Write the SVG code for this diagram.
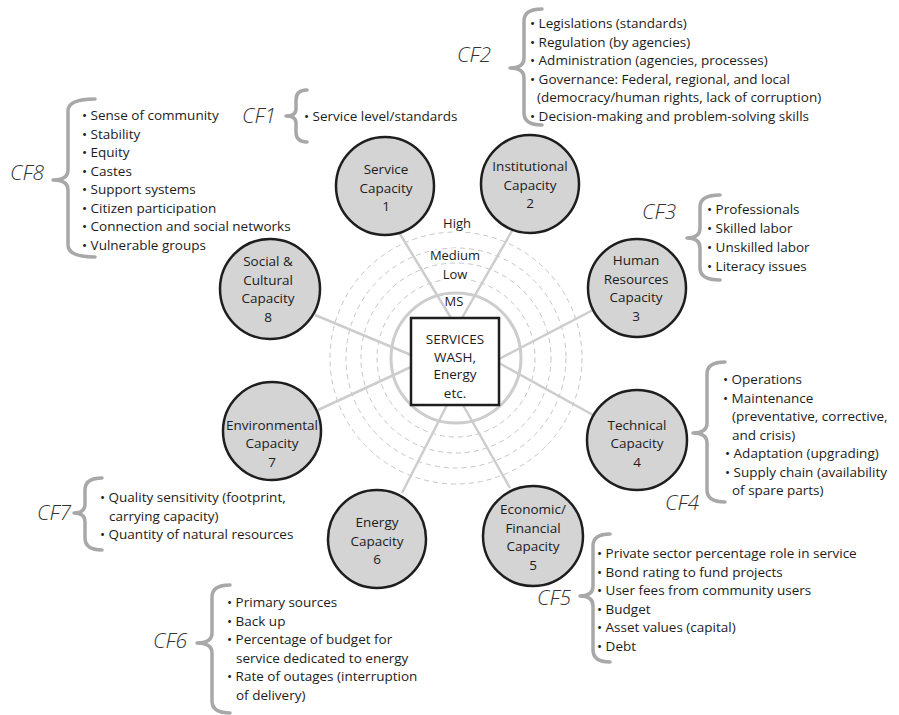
<svg xmlns="http://www.w3.org/2000/svg" width="899" height="715" viewBox="0 0 899 715">
  <style>
    .t{font-family:"Open Sans","Noto Sans","DejaVu Sans",sans-serif;font-size:13.5px;fill:#1c1c1c}
    .c{text-anchor:middle}
    .cf{font-family:"Open Sans","Noto Sans","DejaVu Sans",sans-serif;font-size:21px;font-style:italic;font-weight:300;fill:#333}
    .node{fill:#d4d4d4;stroke:#1e1e1e;stroke-width:2.5}
    .link{stroke:#cdcdcd;stroke-width:2.5;fill:none}
    .ring{fill:none;stroke:#c6c6c6;stroke-width:1;stroke-dasharray:5 4}
    .brace{fill:none;stroke:#a8a8a8;stroke-width:3.5;stroke-linecap:round;stroke-linejoin:round}
    .lvl{font-size:13px;paint-order:stroke;stroke:#fff;stroke-width:4px}
  </style>

  <!-- capacity level rings -->
  <g id="rings">
    <circle class="ring" cx="456" cy="358" r="126"/>
    <circle class="ring" cx="456" cy="358" r="110"/>
    <circle class="ring" cx="456" cy="358" r="95"/>
    <circle class="ring" cx="456" cy="358" r="79"/>
    <circle cx="456" cy="358" r="65" fill="none" stroke="#cdcdcd" stroke-width="3"/>
    <text class="t c lvl" x="457" y="228">High</text>
    <text class="t c lvl" x="455" y="260">Medium</text>
    <text class="t c lvl" x="455" y="278.5">Low</text>
    <text class="t c lvl" x="454" y="306">MS</text>
  </g>

  <!-- spokes from each capacity to the services hub -->
  <g id="connectors">
    <line class="link" x1="400" y1="234" x2="451" y2="318"/>
    <line class="link" x1="513" y1="229" x2="462" y2="318"/>
    <line class="link" x1="593" y1="310" x2="499" y2="359"/>
    <line class="link" x1="593" y1="415" x2="499" y2="363"/>
    <line class="link" x1="510" y1="488" x2="463" y2="405"/>
    <line class="link" x1="402" y1="493" x2="447" y2="405"/>
    <line class="link" x1="318" y1="410" x2="411" y2="367"/>
    <line class="link" x1="315" y1="315" x2="411" y2="355"/>
  </g>

  <g id="services">
    <rect x="411" y="318" width="88" height="87" fill="#fff" stroke="#1e1e1e" stroke-width="2.5"/>
    <text class="t c" x="455" y="344" font-size="16">SERVICES</text>
    <text class="t c" x="455" y="362">WASH,</text>
    <text class="t c" x="455" y="379">Energy</text>
    <text class="t c" x="455" y="398" font-size="16">etc.</text>
  </g>

  <g id="cap1">
    <circle class="node" cx="385" cy="186" r="49"/>
    <text class="t c" x="386" y="174">Service</text>
    <text class="t c" x="386" y="192.5">Capacity</text>
    <text class="t c" x="386" y="211">1</text>
  </g>
  <g id="cap2">
    <circle class="node" cx="530" cy="184" r="49"/>
    <text class="t c" x="530" y="171">Institutional</text>
    <text class="t c" x="530" y="189.5">Capacity</text>
    <text class="t c" x="530" y="208">2</text>
  </g>
  <g id="cap3">
    <circle class="node" cx="637" cy="288" r="49"/>
    <text class="t c" x="636" y="265">Human</text>
    <text class="t c" x="636" y="283.5">Resources</text>
    <text class="t c" x="636" y="302">Capacity</text>
    <text class="t c" x="636" y="320.5">3</text>
  </g>
  <g id="cap4">
    <circle class="node" cx="637" cy="440" r="50"/>
    <text class="t c" x="637" y="429.5">Technical</text>
    <text class="t c" x="637" y="448">Capacity</text>
    <text class="t c" x="637" y="466.5">4</text>
  </g>
  <g id="cap5">
    <circle class="node" cx="533" cy="536" r="50"/>
    <text class="t c" x="533" y="514">Economic/</text>
    <text class="t c" x="533" y="532.5">Financial</text>
    <text class="t c" x="533" y="551">Capacity</text>
    <text class="t c" x="533" y="569.5">5</text>
  </g>
  <g id="cap6">
    <circle class="node" cx="377" cy="539" r="49"/>
    <text class="t c" x="377" y="527">Energy</text>
    <text class="t c" x="377" y="545.5">Capacity</text>
    <text class="t c" x="377" y="564">6</text>
  </g>
  <g id="cap7">
    <circle class="node" cx="272" cy="431" r="49"/>
    <text class="t c" x="272" y="429.5">Environmental</text>
    <text class="t c" x="272" y="448">Capacity</text>
    <text class="t c" x="272" y="466.5">7</text>
  </g>
  <g id="cap8">
    <circle class="node" cx="270" cy="289" r="50"/>
    <text class="t c" x="268" y="266">Social &amp;</text>
    <text class="t c" x="268" y="284.5">Cultural</text>
    <text class="t c" x="268" y="303">Capacity</text>
    <text class="t c" x="268" y="321.5">8</text>
  </g>

  <!-- capacity factor lists -->
  <g id="cf1">
    <text class="cf" x="242" y="123">CF1</text>
    <path class="brace" d="M307,90 Q296,90 296,100 L296,109 Q296,116 286,116 Q296,116 296,123 L296,132 Q296,142 307,142"/>
    <text class="t" x="304" y="121">• Service level/standards</text>
  </g>
  <g id="cf2">
    <text class="cf" x="457" y="62">CF2</text>
    <path class="brace" d="M542,9 Q524,9 524,21 L524,58 Q524,68 510,68 Q524,68 524,78 L524,113 Q524,125 542,125"/>
    <text class="t" x="530" y="28">• Legislations (standards)</text>
    <text class="t" x="530" y="46.5">• Regulation (by agencies)</text>
    <text class="t" x="530" y="65">• Administration (agencies, processes)</text>
    <text class="t" x="530" y="83.5">• Governance: Federal, regional, and local</text>
    <text class="t" x="537" y="102">(democracy/human rights, lack of corruption)</text>
    <text class="t" x="530" y="120.5">• Decision-making and problem-solving skills</text>
  </g>
  <g id="cf3">
    <text class="cf" x="642" y="219">CF3</text>
    <path class="brace" d="M720,195 Q700,195 700,207 L700,228 Q700,238 687,238 Q700,238 700,248 L700,268 Q700,280 720,280"/>
    <text class="t" x="707" y="214">• Professionals</text>
    <text class="t" x="707" y="233">• Skilled labor</text>
    <text class="t" x="707" y="252">• Unskilled labor</text>
    <text class="t" x="707" y="271">• Literacy issues</text>
  </g>
  <g id="cf4">
    <text class="cf" x="665" y="510">CF4</text>
    <path class="brace" d="M725,362 Q707,362 707,374 L707,423 Q707,433 693,433 Q707,433 707,443 L707,490 Q707,502 725,502"/>
    <text class="t" x="723" y="384">• Operations</text>
    <text class="t" x="723" y="402.5">• Maintenance</text>
    <text class="t" x="732" y="421">(preventative, corrective,</text>
    <text class="t" x="732" y="439.5">and crisis)</text>
    <text class="t" x="725" y="458">• Adaptation (upgrading)</text>
    <text class="t" x="725" y="476.5">• Supply chain (availability</text>
    <text class="t" x="732" y="495">of spare parts)</text>
  </g>
  <g id="cf5">
    <text class="cf" x="537" y="605">CF5</text>
    <path class="brace" d="M610,534 Q593,534 593,546 L593,586 Q593,596 580,596 Q593,596 593,606 L593,650 Q593,662 610,662"/>
    <text class="t" x="597" y="558">• Private sector percentage role in service</text>
    <text class="t" x="597" y="576.5">• Bond rating to fund projects</text>
    <text class="t" x="597" y="595">• User fees from community users</text>
    <text class="t" x="597" y="613.5">• Budget</text>
    <text class="t" x="597" y="632">• Asset values (capital)</text>
    <text class="t" x="597" y="650.5">• Debt</text>
  </g>
  <g id="cf6">
    <text class="cf" x="153" y="648">CF6</text>
    <path class="brace" d="M230,585 Q212,585 212,597 L212,633 Q212,643 197,643 Q212,643 212,653 L212,701 Q212,713 230,713"/>
    <text class="t" x="227" y="607">• Primary sources</text>
    <text class="t" x="227" y="625.5">• Back up</text>
    <text class="t" x="227" y="644">• Percentage of budget for</text>
    <text class="t" x="236" y="662.5">service dedicated to energy</text>
    <text class="t" x="227" y="681">• Rate of outages (interruption</text>
    <text class="t" x="236" y="699.5">of delivery)</text>
  </g>
  <g id="cf7">
    <text class="cf" x="37" y="520">CF7</text>
    <path class="brace" d="M102,478 Q85,478 85,490 L85,504 Q85,513 74,513 Q85,513 85,522 L85,538 Q85,550 102,550"/>
    <text class="t" x="100" y="502">• Quality sensitivity (footprint,</text>
    <text class="t" x="109" y="520.5">carrying capacity)</text>
    <text class="t" x="100" y="539">• Quantity of natural resources</text>
  </g>
  <g id="cf8">
    <text class="cf" x="10" y="180">CF8</text>
    <path class="brace" d="M95,99 Q68,99 68,111 L68,170 Q68,180 53,180 Q68,180 68,190 L68,245 Q68,257 95,257"/>
    <text class="t" x="82" y="120">• Sense of community</text>
    <text class="t" x="82" y="138.5">• Stability</text>
    <text class="t" x="82" y="157">• Equity</text>
    <text class="t" x="82" y="175.5">• Castes</text>
    <text class="t" x="82" y="194">• Support systems</text>
    <text class="t" x="82" y="212.5">• Citizen participation</text>
    <text class="t" x="82" y="231">• Connection and social networks</text>
    <text class="t" x="82" y="249.5">• Vulnerable groups</text>
  </g>
</svg>
